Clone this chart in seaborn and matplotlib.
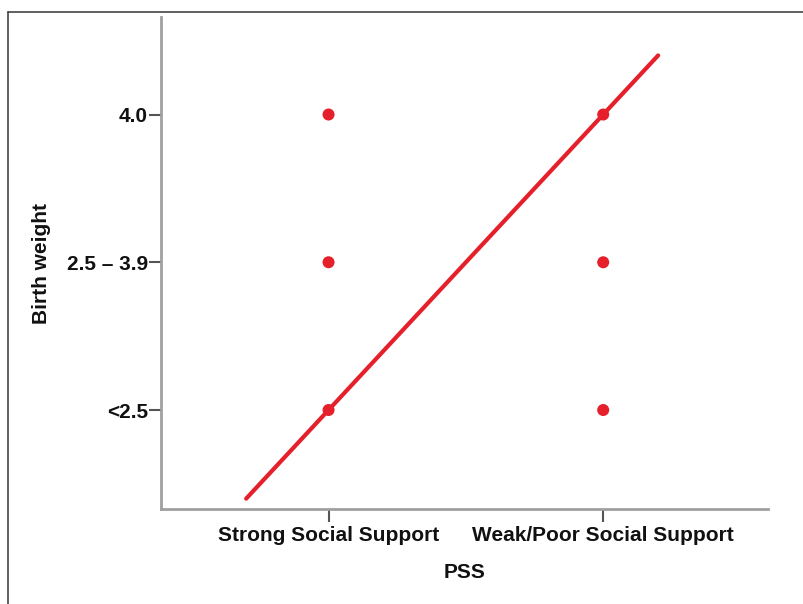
import matplotlib
matplotlib.use("Agg")
import matplotlib.pyplot as plt
import seaborn as sns
import pandas as pd
from matplotlib.lines import Line2D

# ---- data ----
pss_categories = ["Strong Social Support", "Weak/Poor Social Support"]
bw_categories = ["<2.5", "2.5 \u2013 3.9", "4.0"]
point_pss = ["Strong Social Support", "Strong Social Support", "Strong Social Support",
             "Weak/Poor Social Support", "Weak/Poor Social Support", "Weak/Poor Social Support"]
point_bw = ["4.0", "2.5 \u2013 3.9", "<2.5", "4.0", "2.5 \u2013 3.9", "<2.5"]
line_intercept = 0.0
line_slope = 2.0
line_x_range = [-0.3, 1.2]

df = pd.DataFrame({
    "x": [pss_categories.index(p) for p in point_pss],
    "y": [bw_categories.index(b) for b in point_bw],
})
line_df = pd.DataFrame({
    "x": line_x_range,
    "y": [line_intercept + line_slope * v for v in line_x_range],
})

sns.set_style("white")
plt.rcParams["font.family"] = ["Liberation Sans", "DejaVu Sans"]

fig = plt.figure(figsize=(8.04, 6.04), dpi=100)
ax = fig.add_axes([161 / 804, 1 - 509 / 604, (768 - 161) / 804, (509 - 17) / 604])

red = "#e5202a"
sns.lineplot(data=line_df, x="x", y="y", ax=ax, color=red, linewidth=3.0,
             solid_capstyle="round", zorder=2)
sns.scatterplot(data=df, x="x", y="y", ax=ax, color=red, s=75, edgecolor="none",
                zorder=3)

ax.set_xlim(-0.61, 1.6)
ax.set_ylim(-0.67, 2.66)
ax.set_xticks(range(len(pss_categories)))
ax.set_xticklabels(pss_categories)
ax.set_yticks(range(len(bw_categories)))
ax.set_yticklabels(bw_categories)

for s in ["top", "right"]:
    ax.spines[s].set_visible(False)
for s in ["left", "bottom"]:
    ax.spines[s].set_color("#a0a0a0")
    ax.spines[s].set_linewidth(2.0)

ax.tick_params(axis="both", which="both", bottom=True, left=True, direction="out",
               length=9, width=1.5, color="#555555",
               labelsize=15, labelcolor="#111111")
ax.tick_params(axis="y", pad=0.5)
ax.tick_params(axis="x", pad=3)
for lbl in ax.get_xticklabels() + ax.get_yticklabels():
    lbl.set_fontweight("bold")

ax.set_xlabel("PSS", fontsize=15, fontweight="bold", color="#111111", labelpad=13)
ax.set_ylabel("Birth weight", fontsize=15, fontweight="bold", color="#111111", labelpad=11)

# frame lines of the original figure (left and top edges)
fig.add_artist(Line2D([8 / 804, 8 / 804], [0, 1 - 12 / 604], transform=fig.transFigure,
                      color="#444444", linewidth=1.2))
fig.add_artist(Line2D([8 / 804, 1], [1 - 12 / 604, 1 - 12 / 604], transform=fig.transFigure,
                      color="#444444", linewidth=1.2))

fig.savefig("out.png", dpi=100)
